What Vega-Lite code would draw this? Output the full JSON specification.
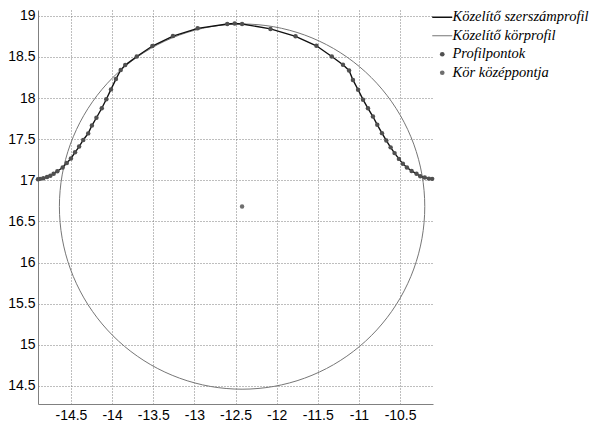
{
  "$schema": "https://vega.github.io/schema/vega-lite/v6.json",
  "width": 395,
  "height": 394,
  "autosize": {"type": "none"},
  "padding": {"left": 38, "top": 10, "right": 162, "bottom": 17},
  "background": "white",
  "config": {
    "view": {"stroke": null},
    "axis": {
      "domainColor": "#808080",
      "domainWidth": 1,
      "gridColor": "#7d7d7d",
      "gridDash": [1, 2],
      "gridWidth": 1,
      "ticks": false,
      "labelFont": "Liberation Sans",
      "labelFontSize": 14,
      "labelColor": "#000000",
      "title": null
    }
  },
  "datasets": {
    "profile": [
      {"x": -14.9, "y": 17.012},
      {"x": -14.875, "y": 17.017},
      {"x": -14.835, "y": 17.025},
      {"x": -14.79, "y": 17.04},
      {"x": -14.75, "y": 17.055},
      {"x": -14.71, "y": 17.08},
      {"x": -14.665, "y": 17.11},
      {"x": -14.6, "y": 17.155},
      {"x": -14.55, "y": 17.21},
      {"x": -14.5, "y": 17.265},
      {"x": -14.45, "y": 17.34},
      {"x": -14.4, "y": 17.41},
      {"x": -14.35, "y": 17.49},
      {"x": -14.29, "y": 17.57},
      {"x": -14.245, "y": 17.665},
      {"x": -14.19, "y": 17.76},
      {"x": -14.125, "y": 17.875},
      {"x": -14.07, "y": 17.985},
      {"x": -14.013, "y": 18.105},
      {"x": -13.953, "y": 18.23},
      {"x": -13.895, "y": 18.34},
      {"x": -13.84, "y": 18.4},
      {"x": -13.7, "y": 18.505},
      {"x": -13.51, "y": 18.632},
      {"x": -13.26, "y": 18.753},
      {"x": -12.96, "y": 18.847},
      {"x": -12.6, "y": 18.9},
      {"x": -12.51, "y": 18.906},
      {"x": -12.42, "y": 18.9},
      {"x": -12.075, "y": 18.84},
      {"x": -11.77, "y": 18.75},
      {"x": -11.517, "y": 18.635},
      {"x": -11.33, "y": 18.505},
      {"x": -11.194, "y": 18.404},
      {"x": -11.12, "y": 18.335},
      {"x": -11.073, "y": 18.22},
      {"x": -11.01, "y": 18.1},
      {"x": -10.95, "y": 17.98},
      {"x": -10.89, "y": 17.875},
      {"x": -10.83, "y": 17.775},
      {"x": -10.777, "y": 17.674},
      {"x": -10.72, "y": 17.573},
      {"x": -10.667, "y": 17.483},
      {"x": -10.615, "y": 17.4},
      {"x": -10.567, "y": 17.33},
      {"x": -10.514, "y": 17.26},
      {"x": -10.466, "y": 17.2},
      {"x": -10.417, "y": 17.155},
      {"x": -10.36, "y": 17.114},
      {"x": -10.3, "y": 17.078},
      {"x": -10.255, "y": 17.05},
      {"x": -10.2, "y": 17.033},
      {"x": -10.15, "y": 17.02},
      {"x": -10.11, "y": 17.017}
    ],
    "circle": [
      {"i": 0, "x": -10.2, "y": 16.68},
      {"i": 1, "x": -10.2337, "y": 17.0654},
      {"i": 2, "x": -10.3339, "y": 17.4393},
      {"i": 3, "x": -10.4974, "y": 17.79},
      {"i": 4, "x": -10.7194, "y": 18.107},
      {"i": 5, "x": -10.993, "y": 18.3806},
      {"i": 6, "x": -11.31, "y": 18.6026},
      {"i": 7, "x": -11.6607, "y": 18.7661},
      {"i": 8, "x": -12.0346, "y": 18.8663},
      {"i": 9, "x": -12.42, "y": 18.9},
      {"i": 10, "x": -12.8054, "y": 18.8663},
      {"i": 11, "x": -13.1793, "y": 18.7661},
      {"i": 12, "x": -13.53, "y": 18.6026},
      {"i": 13, "x": -13.847, "y": 18.3806},
      {"i": 14, "x": -14.1206, "y": 18.107},
      {"i": 15, "x": -14.3426, "y": 17.79},
      {"i": 16, "x": -14.5061, "y": 17.4393},
      {"i": 17, "x": -14.6063, "y": 17.0654},
      {"i": 18, "x": -14.64, "y": 16.68},
      {"i": 19, "x": -14.6063, "y": 16.2946},
      {"i": 20, "x": -14.5061, "y": 15.9207},
      {"i": 21, "x": -14.3426, "y": 15.57},
      {"i": 22, "x": -14.1206, "y": 15.253},
      {"i": 23, "x": -13.847, "y": 14.9794},
      {"i": 24, "x": -13.53, "y": 14.7574},
      {"i": 25, "x": -13.1793, "y": 14.5939},
      {"i": 26, "x": -12.8054, "y": 14.4937},
      {"i": 27, "x": -12.42, "y": 14.46},
      {"i": 28, "x": -12.0346, "y": 14.4937},
      {"i": 29, "x": -11.6607, "y": 14.5939},
      {"i": 30, "x": -11.31, "y": 14.7574},
      {"i": 31, "x": -10.993, "y": 14.9794},
      {"i": 32, "x": -10.7194, "y": 15.253},
      {"i": 33, "x": -10.4974, "y": 15.57},
      {"i": 34, "x": -10.3339, "y": 15.9207},
      {"i": 35, "x": -10.2337, "y": 16.2946}
    ],
    "center": [
      {"x": -12.42, "y": 16.68}
    ]
  },
  "encoding": {
    "x": {
      "field": "x",
      "type": "quantitative",
      "scale": {"domain": [-14.9, -10.1], "nice": false, "zero": false},
      "axis": {
        "values": [-14.5, -14, -13.5, -13, -12.5, -12, -11.5, -11, -10.5],
        "labelExpr": "'' + datum.value",
        "labelPadding": 4,
        "grid": true
      }
    },
    "y": {
      "field": "y",
      "type": "quantitative",
      "scale": {"domain": [14.28, 19.07], "nice": false, "zero": false},
      "axis": {
        "values": [14.5, 15, 15.5, 16, 16.5, 17, 17.5, 18, 18.5, 19],
        "labelExpr": "'' + datum.value",
        "labelPadding": 3,
        "grid": true
      }
    }
  },
  "layer": [
    {
      "data": {"name": "circle"},
      "mark": {"type": "line", "interpolate": "cardinal-closed", "strokeWidth": 1},
      "encoding": {
        "order": {"field": "i", "type": "quantitative"},
        "color": {
          "datum": "Közelítő körprofil",
          "scale": {
            "domain": ["Közelítő szerszámprofil", "Közelítő körprofil", "Profilpontok", "Kör középpontja"],
            "range": ["#111111", "#767676", "#505050", "#6e6e6e"]
          },
          "legend": {
            "orient": "none",
            "legendX": 397,
            "legendY": 0,
            "title": null,
            "labelFont": "Liberation Serif",
            "labelFontStyle": "italic",
            "labelFontSize": 14.5,
            "labelColor": "#000000",
            "labelOffset": 3,
            "rowPadding": 3.5,
            "symbolSize": 400,
            "encode": {
              "symbols": {
                "update": {
                  "shape": {"signal": "indexof(['Profilpontok','Kör középpontja'], datum.value) >= 0 ? 'circle' : 'stroke'"},
                  "size": {"signal": "indexof(['Profilpontok','Kör középpontja'], datum.value) >= 0 ? 22 : 400"},
                  "fill": {"scale": "color", "field": "value"},
                  "stroke": {"scale": "color", "field": "value"},
                  "strokeWidth": {"signal": "indexof(['Profilpontok','Kör középpontja'], datum.value) >= 0 ? 0 : (datum.value === 'Közelítő szerszámprofil' ? 1.5 : 1)"},
                  "opacity": {"value": 1}
                }
              }
            }
          }
        }
      }
    },
    {
      "data": {"name": "profile"},
      "mark": {"type": "line", "strokeWidth": 1.4},
      "encoding": {
        "color": {"datum": "Közelítő szerszámprofil"}
      }
    },
    {
      "data": {"name": "profile"},
      "mark": {"type": "point", "filled": true, "size": 20, "opacity": 1},
      "encoding": {
        "color": {"datum": "Profilpontok"}
      }
    },
    {
      "data": {"name": "center"},
      "mark": {"type": "point", "filled": true, "size": 20, "opacity": 1},
      "encoding": {
        "color": {"datum": "Kör középpontja"}
      }
    }
  ]
}
